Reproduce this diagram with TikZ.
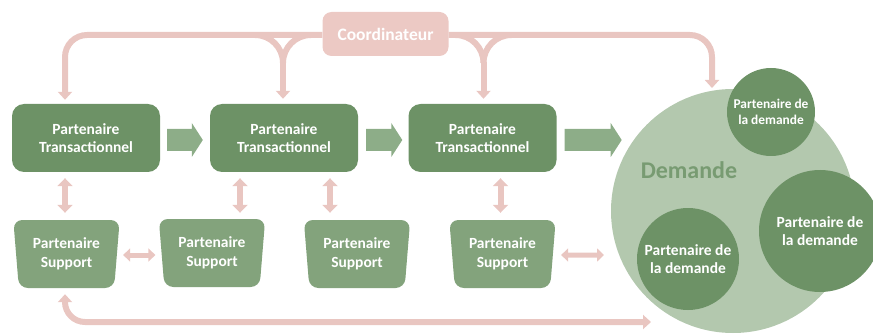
\documentclass[tikz,border=0pt]{standalone}
\usepackage{fontspec}
\setmainfont{Carlito}
\usetikzlibrary{arrows.meta,calc,shapes.geometric}
\definecolor{tgreen}{HTML}{6D9266}
\definecolor{sgreen}{HTML}{83A37C}
\definecolor{bgreen}{HTML}{8DAD88}
\definecolor{lgreen}{HTML}{B3C8AE}
\definecolor{dtext}{HTML}{789B72}
\definecolor{pinkc}{HTML}{E9C6C1}
\definecolor{coordc}{HTML}{ECC9C4}
\tikzset{
  tbox/.style={fill=tgreen, rounded corners=12pt, minimum width=148pt, minimum height=68pt,
    inner sep=0pt, align=center, text=white, font=\bfseries\fontsize{15.5}{18.5}\selectfont},
  sbox/.style={trapezium, trapezium left angle=97, trapezium right angle=97, trapezium stretches=true,
    fill=sgreen, rounded corners=9pt, minimum width=107pt, minimum height=68pt,
    inner sep=0pt, align=center, text=white, font=\bfseries\fontsize{15.5}{18.5}\selectfont},
  cbox/.style={fill=coordc, rounded corners=9pt, minimum width=126pt, minimum height=44pt,
    inner sep=0pt, text=white, font=\bfseries\fontsize{17.5}{20}\selectfont},
  pcirc/.style={circle, fill=tgreen, inner sep=0pt, align=center, text=white,
    font=\bfseries\fontsize{15.5}{18.5}\selectfont},
  pline/.style={draw=pinkc, line width=6pt},
  parrow/.style={pline, -{Triangle[width=14pt,length=8pt]}},
  dblv/.style={draw=pinkc, line width=6pt, {Triangle[width=15pt,length=8pt]}-{Triangle[width=15pt,length=8pt]}},
  dblh/.style={draw=pinkc, line width=5pt, {Triangle[width=13pt,length=7pt]}-{Triangle[width=13pt,length=7pt]}},
  barrowc/.style={fill=bgreen},
}
\newcommand\barrow[2]{\fill[barrowc] ($(#1)+(0,-11)$) -- ($(#2)+(-11,-11)$) -- ($(#2)+(-11,-17)$) -- (#2) -- ($(#2)+(-11,17)$) -- ($(#2)+(-11,11)$) -- ($(#1)+(0,11)$) -- cycle;}
\newcommand\ybranch[1]{%
  \draw[pline] ($(#1)+(-28,0)$) .. controls ($(#1)+(-12.5,0)$) and ($(#1)+(0,12.5)$) .. ($(#1)+(0,28)$);
  \draw[pline] ($(#1)+(28,0)$) .. controls ($(#1)+(12.5,0)$) and ($(#1)+(0,12.5)$) .. ($(#1)+(0,28)$);}
\begin{document}
\begin{tikzpicture}[x=1pt,y=-1pt]
\useasboundingbox (0,0) rectangle (873,334);

% Demand circles
\node[circle, fill=lgreen, minimum size=244pt, inner sep=0pt] (dem) at (733,211) {};
\node[text=dtext, font=\bfseries\fontsize{24}{28}\selectfont] (demlbl) at (689,170) {Demande};
\node[pcirc, minimum size=88pt, font=\bfseries\fontsize{13.4}{16}\selectfont] (p1) at (771,112) {Partenaire de\\la demande};
\node[pcirc, minimum size=122pt] (p2) at (820,231) {Partenaire de\\la demande};
\node[pcirc, minimum size=102pt] (p3) at (688,259) {Partenaire de\\la demande};

% Coordinateur
\node[cbox] (co) at (385.5,34) {Coordinateur};

% Transactionnel
\node[tbox] (t1) at (86,138) {Partenaire\\Transactionnel};
\node[tbox] (t2) at (284,138) {Partenaire\\Transactionnel};
\node[tbox] (t3) at (482.5,138) {Partenaire\\Transactionnel};

% Support
\node[sbox] (s1) at (66.5,254) {Partenaire\\Support};
\node[sbox] (s2) at (212,253) {Partenaire\\Support};
\node[sbox] (s3) at (357,254) {Partenaire\\Support};
\node[sbox] (s4) at (502.5,254) {Partenaire\\Support};

% Block arrows
\coordinate (a1s) at ($(t1.east)+(7,2)$);
\coordinate (a1e) at ($(t2.west)+(-7,2)$);
\coordinate (a2s) at ($(t2.east)+(8,2)$);
\coordinate (a2e) at ($(t3.west)+(-6,2)$);
\coordinate (a3s) at ($(t3.east)+(8,2)$);
\coordinate (a3e) at ($(t3.east)+(65,2)$);
\barrow{a1s}{a1e}
\barrow{a2s}{a2e}
\barrow{a3s}{a3e}

% Top coordinator connectors
\coordinate (ct1) at ($(t1.north)+(-21,-4)$);
\coordinate (ct4) at (712,88);
\draw[parrow, rounded corners=22pt] ($(co.west)+(0,1)$) -| (ct1);
\draw[parrow, rounded corners=22pt] ($(co.east)+(0,1)$) -| (ct4);

\coordinate (y2) at ($(t2.north |- co.west)+(-1,1)$);
\coordinate (y2m) at ($(y2)+(0,27)$);
\coordinate (y2e) at (y2 |- t2.north);
\ybranch{y2}
\draw[parrow, shorten >=5pt] (y2m) -- (y2e);

\coordinate (y3) at ($(t3.north |- co.east)+(1,1)$);
\coordinate (y3m) at ($(y3)+(0,27)$);
\coordinate (y3e) at (y3 |- t3.north);
\ybranch{y3}
\draw[parrow, shorten >=5pt] (y3m) -- (y3e);

% Vertical double arrows
\coordinate (v1a) at (ct1 |- t1.south);
\coordinate (v1b) at (ct1 |- s1.north);
\coordinate (v2a) at ($(t2.south)+(-44,0)$);
\coordinate (v2b) at (v2a |- s2.north);
\coordinate (v3a) at ($(t2.south)+(46,0)$);
\coordinate (v3b) at (v3a |- s3.north);
\coordinate (v4a) at ($(t3.south)+(18,0)$);
\coordinate (v4b) at (v4a |- s4.north);
\draw[dblv, shorten <=6pt, shorten >=7pt] (v1a) -- (v1b);
\draw[dblv, shorten <=6pt, shorten >=6pt] (v2a) -- (v2b);
\draw[dblv, shorten <=6pt, shorten >=7pt] (v3a) -- (v3b);
\draw[dblv, shorten <=6pt, shorten >=7pt] (v4a) -- (v4b);

% Horizontal double arrows
\coordinate (h1s) at ($(s1.east)+(6,1)$);
\coordinate (h1e) at ($(s2.west)+(-6,2)$);
\draw[dblh] (h1s) -- (h1e);
\coordinate (h4s) at ($(s4.east)+(8,1)$);
\coordinate (h4e) at (604,255);
\draw[dblh] (h4s) -- (h4e);

% Bottom connector
\coordinate (bs) at ($(s1.south)+(-1.5,6)$);
\coordinate (be) at (651,322);
\draw[draw=pinkc, line width=6pt, {Triangle[width=14pt,length=8pt]}-{Triangle[width=14pt,length=8pt]}, rounded corners=20pt] (bs) |- (be);
\end{tikzpicture}
\end{document}
